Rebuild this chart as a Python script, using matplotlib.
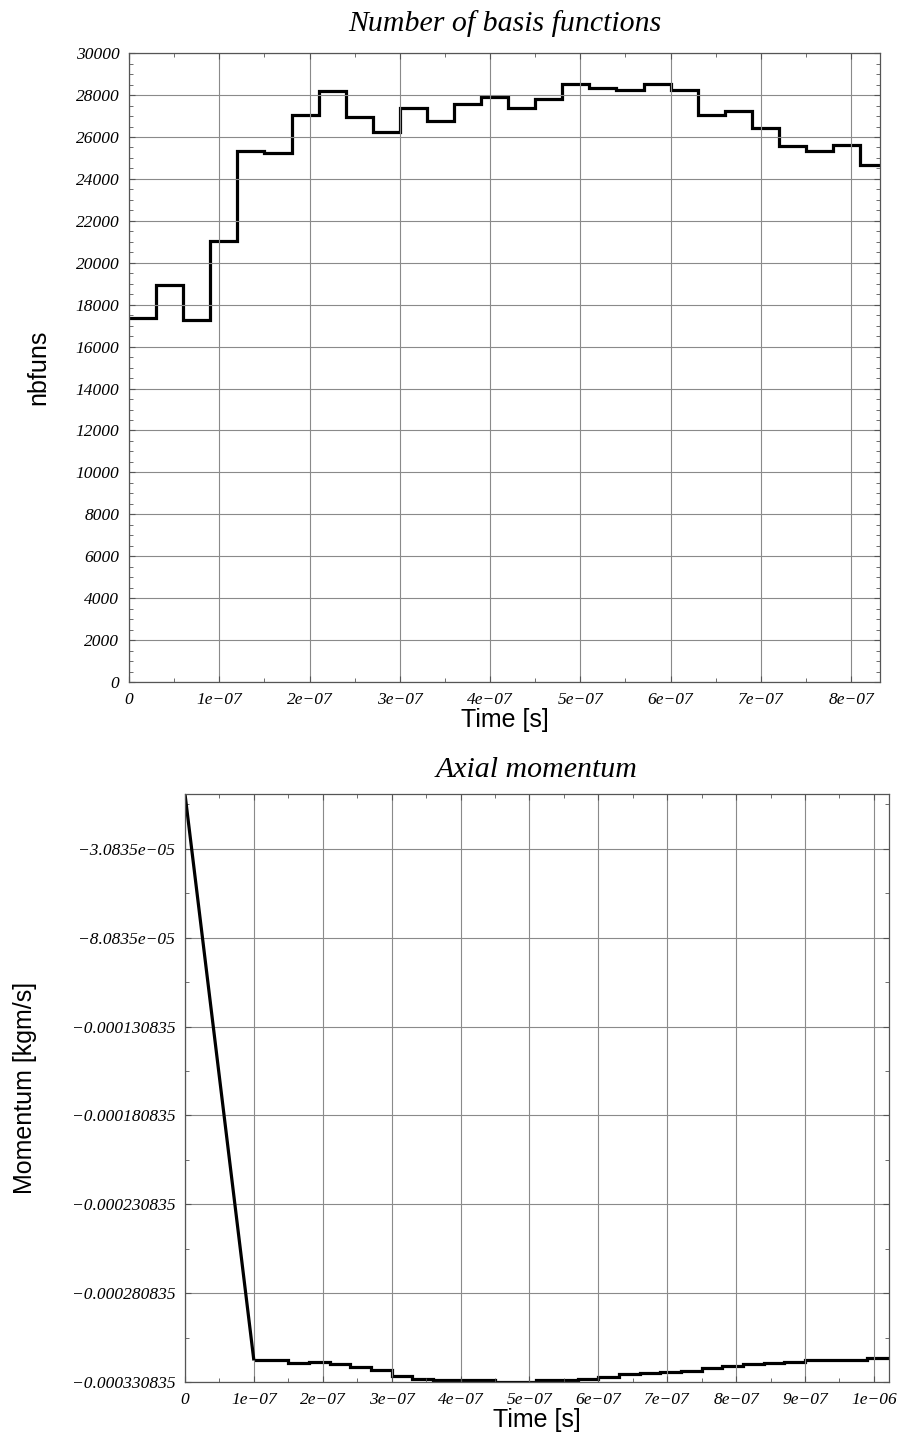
import numpy as np
import matplotlib.pyplot as plt
from matplotlib.ticker import FuncFormatter, MultipleLocator, FixedLocator

# ── Data: number of basis functions (step function, 3e-8 s intervals) ───────
nbf_edges = [0.0, 0.3e-7, 0.6e-7, 0.9e-7, 1.2e-7, 1.5e-7, 1.8e-7, 2.1e-7,
             2.4e-7, 2.7e-7, 3.0e-7, 3.3e-7, 3.6e-7, 3.9e-7, 4.2e-7, 4.5e-7,
             4.8e-7, 5.1e-7, 5.4e-7, 5.7e-7, 6.0e-7, 6.3e-7, 6.6e-7, 6.9e-7,
             7.2e-7, 7.5e-7, 7.8e-7, 8.1e-7, 8.32e-7]
nbfuns = [17350, 18950, 17270, 21050, 25350, 25250, 27050, 28200, 26950,
          26250, 27400, 26750, 27570, 27920, 27360, 27800, 28550, 28350,
          28250, 28550, 28250, 27050, 27250, 26450, 25550, 25350, 25600,
          24650]

# ── Data: axial momentum ────────────────────────────────────────────────────
mom_time = [0.0, 1.0e-7, 1.2e-7, 1.5e-7, 1.8e-7, 2.1e-7, 2.4e-7, 2.7e-7,
            3.0e-7, 3.3e-7, 3.6e-7, 3.9e-7, 4.2e-7, 4.5e-7, 4.8e-7, 5.1e-7,
            5.4e-7, 5.7e-7, 6.0e-7, 6.3e-7, 6.6e-7, 6.9e-7, 7.2e-7, 7.5e-7,
            7.8e-7, 8.1e-7, 8.4e-7, 8.7e-7, 9.0e-7, 9.3e-7, 9.6e-7, 9.9e-7]
momentum = [0.0, -3.187e-4, -3.187e-4, -3.204e-4, -3.196e-4, -3.205e-4,
            -3.224e-4, -3.239e-4, -3.273e-4, -3.291e-4, -3.295e-4, -3.297e-4,
            -3.297e-4, -3.30835e-4, -3.30835e-4, -3.296e-4, -3.296e-4,
            -3.290e-4, -3.282e-4, -3.2635e-4, -3.258e-4, -3.250e-4,
            -3.245e-4, -3.232e-4, -3.220e-4, -3.209e-4, -3.2017e-4,
            -3.194e-4, -3.1867e-4, -3.183e-4, -3.183e-4, -3.1717e-4]
mom_tmax = 1.022e-6

tick_font = dict(family='Liberation Serif', style='italic', size=12.5)
title_font = dict(family='Liberation Serif', style='italic', size=21.5)
label_font = dict(family='Liberation Sans', size=18)


def g_fmt(v, pos):
    return ('%g' % v).replace('-', '\u2212')


def style_axes(ax):
    ax.grid(True, which='major', color='#8a8a8a', lw=0.8)
    ax.tick_params(which='both', direction='in', top=True, right=True,
                   colors='#555555', labelcolor='black')
    ax.tick_params(which='major', length=4, pad=7)
    ax.tick_params(which='minor', length=3)
    for sp in ax.spines.values():
        sp.set_color('#555555')
        sp.set_linewidth(0.9)
    ax.xaxis.set_major_formatter(FuncFormatter(g_fmt))
    ax.yaxis.set_major_formatter(FuncFormatter(g_fmt))
    for lab in ax.get_xticklabels() + ax.get_yticklabels():
        lab.set(**tick_font)


fig = plt.figure(figsize=(8.98, 14.32), dpi=100)

# ── Top: number of basis functions ──────────────────────────────────────────
ax1 = fig.add_axes([0.1437, 0.5237, 0.8363, 0.4392])
ax1.stairs(nbfuns, nbf_edges, baseline=None, color='black', lw=2.3)
ax1.set_xlim(0, nbf_edges[-1])
ax1.set_ylim(0, 30000)
ax1.xaxis.set_major_locator(MultipleLocator(1e-7))
ax1.xaxis.set_minor_locator(MultipleLocator(0.5e-7))
ax1.yaxis.set_major_locator(MultipleLocator(2000))
ax1.yaxis.set_minor_locator(MultipleLocator(500))
style_axes(ax1)
ax1.set_title('Number of basis functions', pad=16, **title_font)
ax1.set_xlabel('Time [s]', **label_font)
ax1.set_ylabel('nbfuns', **label_font)
ax1.xaxis.set_label_coords(0.5, -0.042)
ax1.yaxis.set_label_coords(-0.105, 0.5)

# ── Bottom: axial momentum ──────────────────────────────────────────────────
ax2 = fig.add_axes([0.2060, 0.0349, 0.7840, 0.4106])
ax2.plot(mom_time[:2], momentum[:2], color='black', lw=2.3,
         solid_capstyle='butt')
ax2.stairs(momentum[1:], mom_time[1:] + [mom_tmax], baseline=None,
           color='black', lw=2.3)
ymin = min(momentum)
ymax = max(momentum)
ax2.set_xlim(0, mom_tmax)
ax2.set_ylim(ymin, ymax)
ax2.xaxis.set_major_locator(MultipleLocator(1e-7))
ax2.xaxis.set_minor_locator(MultipleLocator(0.5e-7))
ax2.yaxis.set_major_locator(FixedLocator([ymin + k * 5e-5 for k in range(7)]))
ax2.yaxis.set_minor_locator(FixedLocator([ymin + 2.5e-5 + k * 5e-5 for k in range(7)]))
style_axes(ax2)
ax2.set_title('Axial momentum', pad=12, **title_font)
ax2.set_xlabel('Time [s]', **label_font)
ax2.set_ylabel('Momentum [kgm/s]', **label_font)
ax2.xaxis.set_label_coords(0.5, -0.044)
ax2.yaxis.set_label_coords(-0.21, 0.5)

fig.savefig('out.png', dpi=100)
